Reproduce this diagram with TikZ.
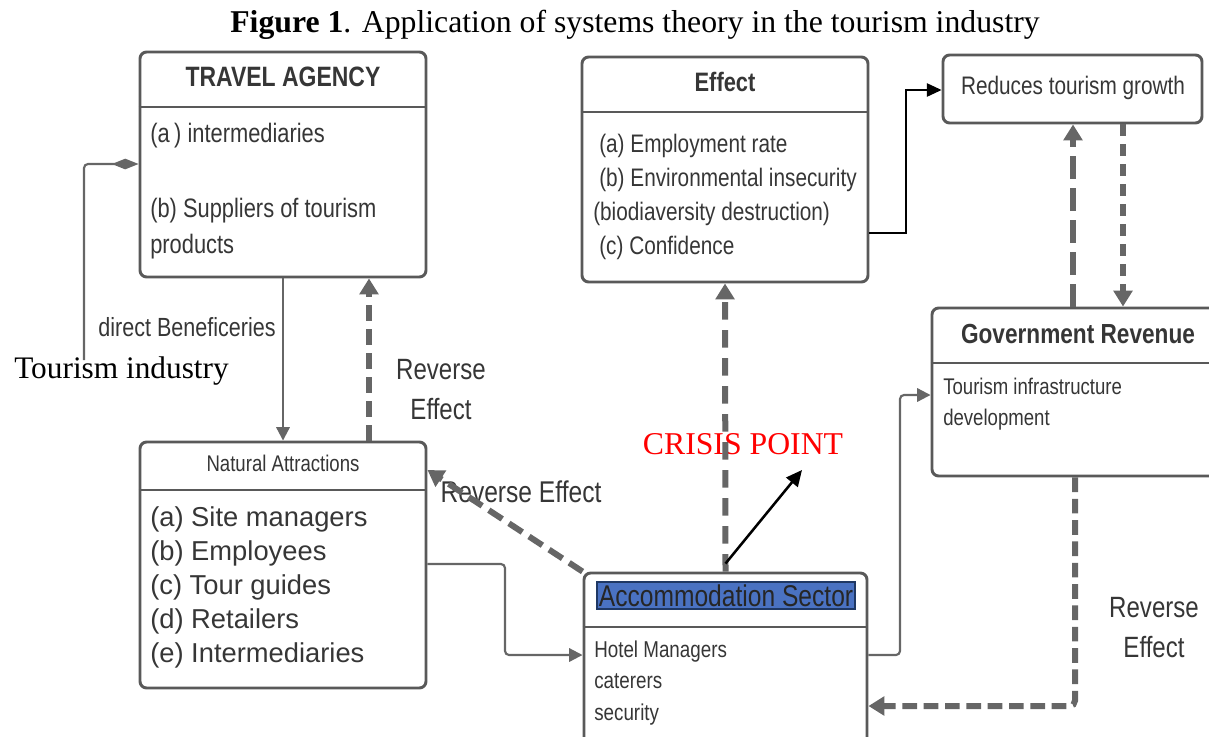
\documentclass[tikz,border=0pt]{standalone}
\usepackage{fontspec}
\setmainfont{Liberation Serif}
\newfontfamily\nar[FakeStretch=0.82]{Liberation Sans}
\newfontfamily\ari{Liberation Sans}
\usetikzlibrary{arrows.meta,fit}
\definecolor{bordc}{HTML}{595959}
\definecolor{linec}{HTML}{666666}
\definecolor{txtc}{HTML}{363636}
\definecolor{hlblue}{HTML}{4A72C2}
\definecolor{hlborder}{HTML}{1F3864}
\definecolor{crisisred}{HTML}{FF0000}
\newcommand\myfs[2]{\fontsize{#1}{#2}\selectfont}
\begin{document}
\begin{tikzpicture}[x=0.75pt,y=-0.75pt,
  box/.style={draw=bordc, line width=2.2pt, rounded corners=5pt, inner sep=0pt},
  divider/.style={draw=bordc, line width=2.2pt},
  thinconn/.style={draw=linec, line width=1.6pt, rounded corners=3pt, -{Triangle[length=10pt,width=10pt]}},
  blackconn/.style={draw=black, line width=1.9pt, -{Triangle[length=12pt,width=11pt]}},
  revconn/.style={draw=linec, line width=4.5pt, rounded corners=4pt, dash pattern=on 12pt off 6pt, -{Triangle[length=12pt,width=14pt]}},
  lbl/.style={text=txtc, inner sep=0pt, align=left},
]
\useasboundingbox (0,0) rectangle (1209,736);
\clip (0,0) rectangle (1209,736);

% title
\node[inner sep=0pt, font=\myfs{23.8pt}{28pt}] (title) at (635,25) {\textbf{Figure 1}. Application of systems theory in the tourism industry};

% boxes
\node[box, fit={(140,52) (426,277)}] (ta) {};
\draw[divider] (ta.west |- 0,107) -- (ta.east |- 0,107);
\node[box, fit={(582,57) (868,282)}] (eff) {};
\draw[divider] (eff.west |- 0,112) -- (eff.east |- 0,112);
\node[box, fit={(943,55) (1202,123)}] (red) {};
\node[box, fit={(932,308) (1218,476)}] (gov) {};
\draw[divider] (gov.west |- 0,363) -- (gov.east |- 0,363);
\node[box, fit={(140,442) (426,688)}] (nat) {};
\draw[divider] (nat.west |- 0,490) -- (nat.east |- 0,490);
\node[box, fit={(584,573) (867,748)}] (acc) {};
\draw[divider] (acc.west |- 0,627) -- (acc.east |- 0,627);

% box texts
\node[lbl, font=\nar\bfseries\myfs{21pt}{24pt}] (tah) at (283,77) {TRAVEL AGENCY};
\node[lbl, anchor=west, font=\nar\myfs{20pt}{27pt}] (ta1) at (150,136) {(a\,) intermediaries};
\node[lbl, anchor=west, font=\nar\myfs{20pt}{27pt}] (ta2) at (150,229) {(b) Suppliers of tourism\\products};

\node[lbl, font=\nar\bfseries\myfs{20pt}{24pt}] (effh) at (725,82) {Effect};
\node[lbl, anchor=west, font=\nar\myfs{19pt}{25.5pt}] (eff1) at (593,197) {\hspace{4.5pt}(a) Employment rate\\\hspace{4.5pt}(b) Environmental insecurity\\(biodiaversity destruction)\\\hspace{4.5pt}(c) Confidence};

\node[lbl, font=\nar\myfs{19pt}{24pt}] (redt) at (1073,88) {Reduces tourism growth};

\node[lbl, font=\nar\bfseries\myfs{20.7pt}{24pt}] (govh) at (1078,334) {Government Revenue};
\node[lbl, anchor=west, font=\nar\myfs{17pt}{23.25pt}] (gov1) at (943,404.5) {Tourism infrastructure\\development};

\node[lbl, font=\nar\myfs{17pt}{20pt}] (nath) at (283,463) {Natural Attractions};
\node[lbl, anchor=west, font=\ari\myfs{20.5pt}{25.5pt}] (nat1) at (150,587) {(a) Site managers\\(b) Employees\\(c) Tour guides\\(d) Retailers\\(e) Intermediaries};

\node[fill=hlblue, draw=hlborder, line width=0.8pt, minimum width=193.5pt, minimum height=20.25pt, inner sep=0pt, text=black!85, font=\nar\myfs{22.5pt}{24pt}] (acch) at (726,595.5) {Accommodation Sector};
\node[lbl, anchor=west, font=\nar\myfs{17.2pt}{23.6pt}] (acc1) at (594,683) {Hotel Managers\\caterers\\security};

% free labels
\node[inner sep=0pt, anchor=west, font=\myfs{23.5pt}{28pt}] (tind) at (14,371) {Tourism industry};
\node[lbl, font=\nar\myfs{19.7pt}{24pt}] (dben) at (187,327) {direct Beneficeries};
\node[lbl, align=center, font=\nar\myfs{22pt}{30pt}] (rev1) at (441,390) {Reverse\\Effect};
\node[lbl, font=\nar\myfs{22.5pt}{26pt}] (rev2) at (521,492) {Reverse Effect};
\node[lbl, align=center, font=\nar\myfs{22pt}{30pt}] (rev3) at (1154,628) {Reverse\\Effect};
\node[inner sep=0pt, text=crisisred, font=\myfs{23.8pt}{28pt}] (crisis) at (743,444) {CRISIS POINT};

% connectors
\coordinate (tiend) at (84,360);
\coordinate (crisistip) at (802,470);
\draw[draw=linec, line width=1.6pt, rounded corners=3pt, {Diamond[length=20pt,width=8pt]}-] (ta.west |- 0,164) -- (84,164) -- (tiend);
\draw[thinconn] (ta.south) -- (nat.north);
\draw[revconn] (nat.north -| 369,0) -- (ta.south -| 369,0);
\draw[revconn] (acc.north west) -- (nat.east |- 0,470);
\draw[thinconn] (nat.east |- 0,564) -- (505,564) |- (acc.west |- 0,655);
\draw[revconn, dash pattern=on 13pt off 8pt] (acc.north) -- (eff.south);
\draw[blackconn] (acc.north) ++(0,-8) -- (crisistip);
\draw[draw=black, line width=1.1pt, -{Triangle[length=11pt,width=10pt]}] (eff.east |- 0,233) -- (906,233) |- (red.west |- 0,90);
\draw[revconn, dash pattern=on 17pt off 7pt] (gov.north -| 1073,0) -- (red.south -| 1073,0);
\draw[revconn, dash pattern=on 9pt off 6pt] (red.south -| 1123,0) -- (gov.north -| 1123,0);
\draw[thinconn] (acc.east |- 0,655) -- (900,655) |- (gov.west |- 0,395);
\draw[revconn, dash pattern=on 11pt off 5pt] (gov.south -| 1075,0) |- (acc.east |- 0,706);
\end{tikzpicture}
\end{document}
